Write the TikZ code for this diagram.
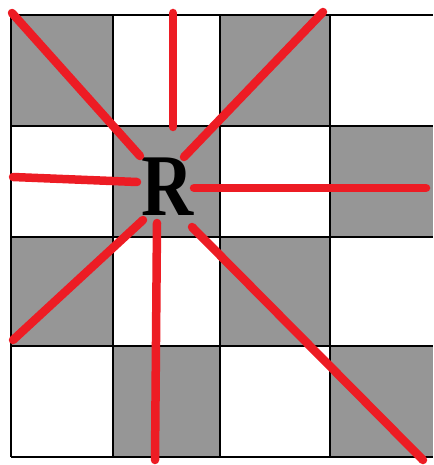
\documentclass[tikz,border=0pt]{standalone}
\usepackage{tikz}
\usepackage{graphicx}
\usepackage{fontspec}
\newfontfamily\letterfont{Liberation Serif}
\definecolor{cellgray}{RGB}{150,150,150}
\definecolor{rayred}{RGB}{237,28,36}
\tikzset{
  graycell/.style={fill=cellgray},
  gridline/.style={black,line width=1.5pt},
  ray/.style={rayred,line width=8.5pt,line cap=round},
  letter/.style={inner sep=0pt,font=\letterfont\bfseries\fontsize{88}{88}\selectfont}
}
\begin{document}
\begin{tikzpicture}[x=1pt,y=-1pt]
\useasboundingbox (0,0) rectangle (433,465);
% gray cells
\fill[graycell] (11,15) rectangle (113,126);
\fill[graycell] (220,15) rectangle (330,126);
\fill[graycell] (113,126) rectangle (220,237);
\fill[graycell] (330,126) rectangle (433,237);
\fill[graycell] (11,237) rectangle (113,346);
\fill[graycell] (220,237) rectangle (330,346);
\fill[graycell] (113,346) rectangle (220,457);
\fill[graycell] (330,346) rectangle (433,457);
% grid lines
\foreach \y in {15,126,237,346,457} \draw[gridline] (11,\y) -- (433,\y);
\foreach \x in {11,113,220,330} \draw[gridline] (\x,15) -- (\x,457);
% letter
\node[letter] (R) at (168,187) {\scalebox{0.82}[1]{R}};
% ray end points
\coordinate (s1) at (140,156); \coordinate (e1) at (12,13);
\coordinate (s2) at (173,127); \coordinate (e2) at (173,13);
\coordinate (s3) at (184,157); \coordinate (e3) at (323,12);
\coordinate (s4) at (137,182); \coordinate (e4) at (13,177);
\coordinate (s5) at (194,188); \coordinate (e5) at (426,188);
\coordinate (s6) at (143,220); \coordinate (e6) at (13,340);
\coordinate (s7) at (157,223); \coordinate (e7) at (155,460);
\coordinate (s8) at (192,227); \coordinate (e8) at (423,460);
\foreach \i in {1,...,8} \draw[ray] (s\i) -- (e\i);
\end{tikzpicture}
\end{document}
